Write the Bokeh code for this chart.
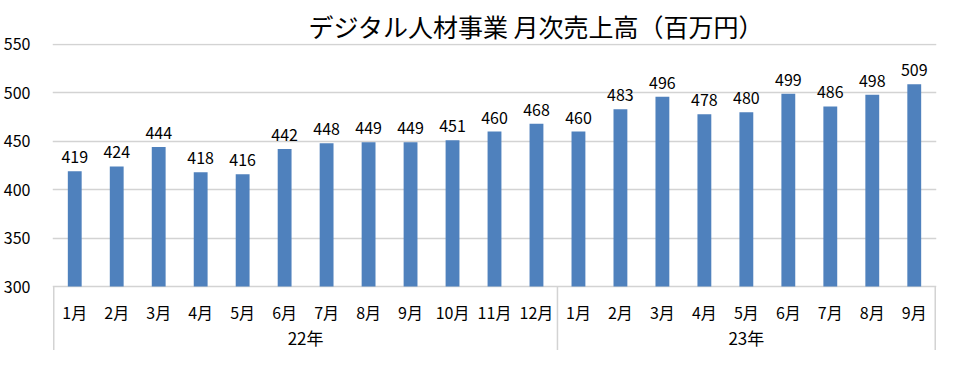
from bokeh.plotting import figure
from bokeh.models import Range1d, ColumnDataSource
from bokeh.core.properties import value
from bokeh.embed import file_html
from bokeh.resources import INLINE
import numpy as np

# ---- data ----
years = ["22年", "23年"]
months_22 = ["1月", "2月", "3月", "4月", "5月", "6月", "7月", "8月", "9月", "10月", "11月", "12月"]
months_23 = ["1月", "2月", "3月", "4月", "5月", "6月", "7月", "8月", "9月"]
sales = [419, 424, 444, 418, 416, 442, 448, 449, 449, 451, 460, 468,
         460, 483, 496, 478, 480, 499, 486, 498, 509]
y_ticks = [300, 350, 400, 450, 500, 550]
baseline = 300
title_text = "デジタル人材事業 月次売上高（百万円）"

# ---- derived ----
months = months_22 + months_23
idx = np.arange(len(months))
counts = [len(months_22), len(months_23)]
edges = np.concatenate([[0], np.cumsum(counts)]) - 0.5
centers = (edges[:-1] + edges[1:]) / 2

FONT = "Noto Sans CJK JP"
GRID = "#D3D3D3"
BAR = "#4F81BD"

y_low = 233.9
p = figure(width=939, height=350, output_backend="svg", toolbar_location=None,
           x_range=Range1d(edges[0] - 0.03, edges[-1] + 0.03),
           y_range=Range1d(y_low, 551),
           min_border_left=50, min_border_right=3, min_border_top=43, min_border_bottom=0,
           title=title_text)
p.outline_line_color = None
p.background_fill_color = "white"
p.border_fill_color = "white"

p.title.text_font = FONT
p.title.text_font_size = "25px"
p.title.text_font_style = "normal"
p.title.text_color = "black"
p.title.align = "left"
p.title.offset = 256
p.title.standoff = 0

p.xaxis.visible = False
p.xgrid.visible = False

p.yaxis.ticker = y_ticks
p.yaxis.axis_line_color = None
p.yaxis.major_tick_line_color = None
p.yaxis.minor_tick_line_color = None
p.yaxis.major_label_standoff = 16
p.yaxis.major_label_text_font = FONT
p.yaxis.major_label_text_font_size = "16px"
p.yaxis.major_label_text_color = "black"
p.ygrid.grid_line_color = GRID
p.ygrid.grid_line_width = 1.5

src = ColumnDataSource(dict(x=idx, top=sales, label=[str(v) for v in sales], month=months))
p.vbar(x="x", top="top", bottom=baseline, width=0.33, source=src,
       fill_color=BAR, line_color=None)

p.text(x="x", y="top", text="label", source=src, text_font=value(FONT),
       text_font_size="16px", text_align="center", text_baseline="alphabetic",
       y_offset=-14, text_color="black")

p.text(x="x", y=baseline, text="month", source=src, text_font=value(FONT),
       text_font_size="16px", text_align="center", text_baseline="middle",
       y_offset=25, text_color="black")

p.text(x=centers, y=[baseline] * len(years), text=years, text_font=value(FONT),
       text_font_size="17px", text_align="center", text_baseline="middle",
       y_offset=51, text_color="black")

p.segment(x0=edges, y0=[baseline] * len(edges), x1=edges, y1=[y_low] * len(edges),
          line_color=GRID, line_width=1.5)

open("out.html", "w").write(file_html(p, INLINE))
